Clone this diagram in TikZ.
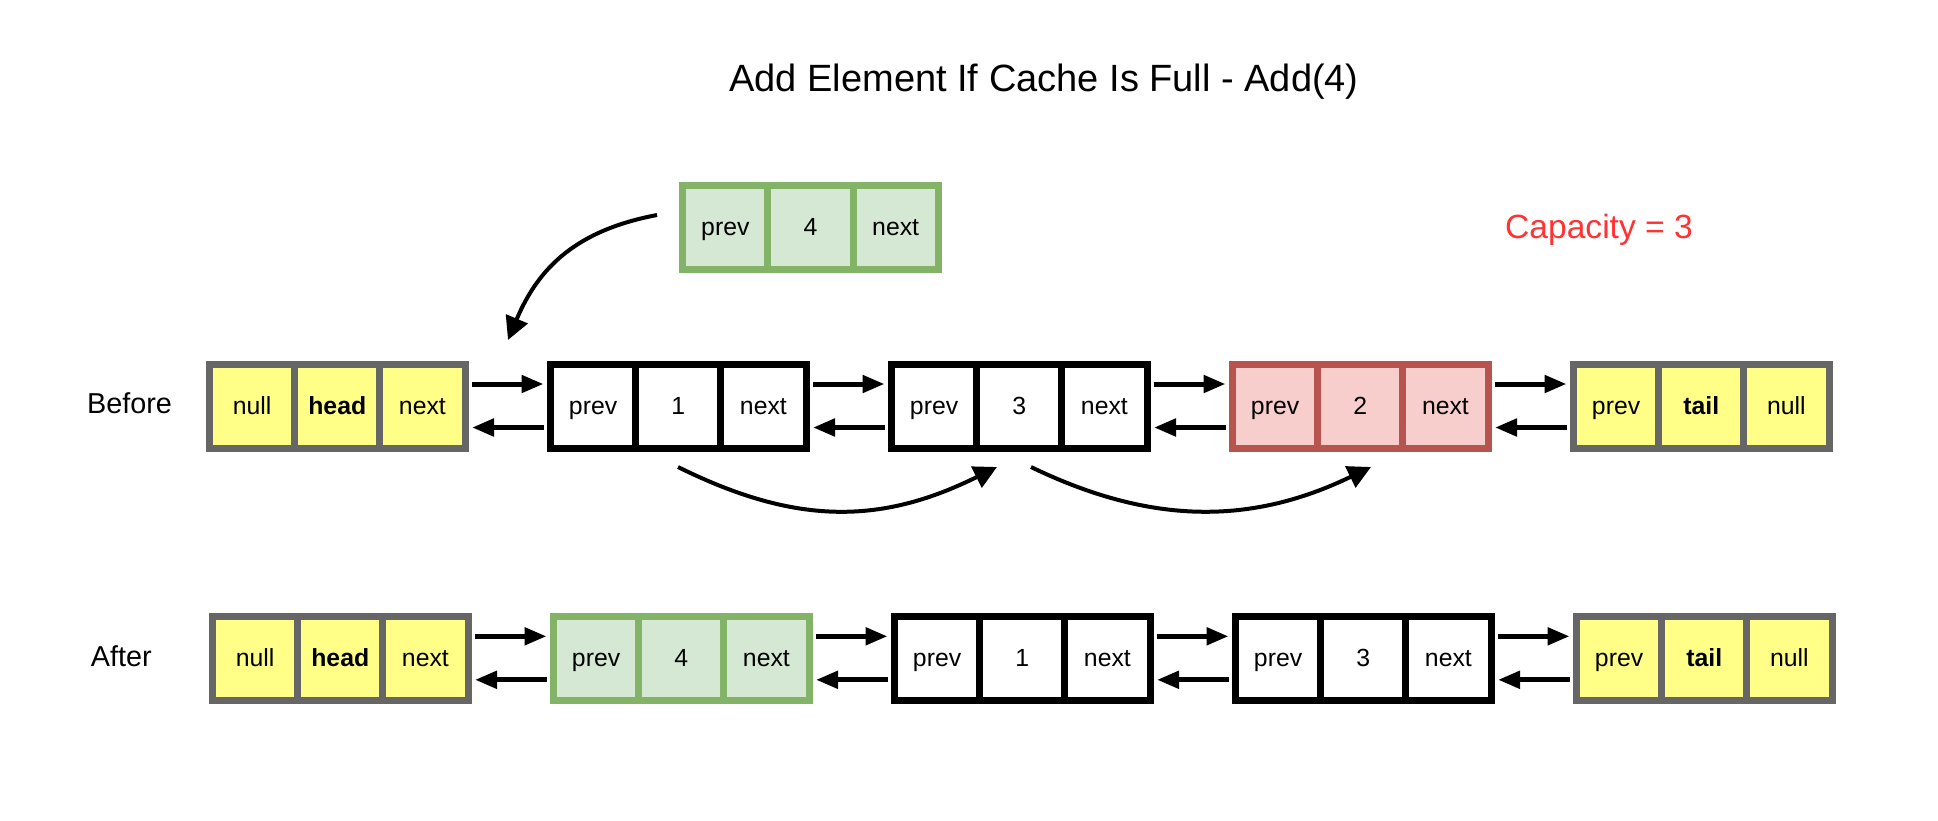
\documentclass[tikz,border=0pt]{standalone}
\usepackage{fontspec}
\setmainfont{Liberation Sans}
\usetikzlibrary{arrows.meta}
\definecolor{ylwfill}{HTML}{FFFF88}
\definecolor{ylwline}{HTML}{666666}
\definecolor{grnfill}{HTML}{D5E8D4}
\definecolor{grnline}{HTML}{82B366}
\definecolor{redfill}{HTML}{F8CECC}
\definecolor{redline}{HTML}{B85450}
\definecolor{capred}{HTML}{FF3333}
\tikzset{
  cellbase/.style={draw, line width=3.5pt, minimum width=42.58pt, minimum height=42pt,
    inner sep=0pt, anchor=center, font=\fontsize{12.4}{14}\selectfont,
    text height=0.9em, text depth=0.134em},
  ylw/.style={cellbase, fill=ylwfill, draw=ylwline},
  grn/.style={cellbase, fill=grnfill, draw=grnline},
  rd/.style={cellbase, fill=redfill, draw=redline},
  blk/.style={cellbase, fill=white, draw=black},
  link/.style={line width=2.5pt, shorten <=1.75pt, shorten >=1.75pt,
    -{Triangle[length=11pt,width=8.5pt]}},
  bendarrow/.style={line width=2pt, -{Triangle[length=11.5pt,width=11.5pt]}},
  lbl/.style={anchor=base, font=\fontsize{14.4}{17}\selectfont},
}
\newcommand\llnode[7]{%
  \node[#2] (#1a) at (#3-85.17,#4) {#5};
  \node[#2] (#1c) at (#3+85.17,#4) {#7};
  \node[#2] (#1b) at (#3,#4) {#6};
}
\begin{document}
\begin{tikzpicture}[x=0.5pt,y=-0.5pt]
\useasboundingbox (0,0) rectangle (1938,820);

\node[anchor=base, font=\fontsize{19}{22}\selectfont] (title) at (1044,91.5) {Add Element If Cache Is Full - Add(4)};
\node[anchor=base, font=\fontsize{16.8}{20}\selectfont, text=capred] (cap) at (1599,238.3) {Capacity = 3};
\node[lbl] (before) at (129.5,413.3) {Before};
\node[lbl] (after) at (121.2,666.7) {After};

% new element
\llnode{n}{grn}{810.5}{227.5}{prev}{4}{next}

% before row
\llnode{b0}{ylw}{337.25}{406.5}{null}{\textbf{head}}{next}
\llnode{b1}{blk}{678.25}{406.5}{prev}{1}{next}
\llnode{b2}{blk}{1019.25}{406.5}{prev}{3}{next}
\llnode{b3}{rd}{1360.25}{406.5}{prev}{2}{next}
\llnode{b4}{ylw}{1701.25}{406.5}{prev}{\textbf{tail}}{null}

% after row
\llnode{a0}{ylw}{340.25}{658.8}{null}{\textbf{head}}{next}
\llnode{a1}{grn}{681.25}{658.8}{prev}{4}{next}
\llnode{a2}{blk}{1022.25}{658.8}{prev}{1}{next}
\llnode{a3}{blk}{1363.25}{658.8}{prev}{3}{next}
\llnode{a4}{ylw}{1704.25}{658.8}{prev}{\textbf{tail}}{null}

% links
\foreach \r in {b,a}{
  \foreach \i/\j in {0/1,1/2,2/3,3/4}{
    \draw[link] ([yshift=11.25pt]\r\i c.east) -- ([yshift=11.25pt]\r\j a.west);
    \draw[link] ([yshift=-10.5pt]\r\j a.west) -- ([yshift=-10.5pt]\r\i c.east);
  }
}

% curved arrows
\coordinate (c1s) at (657,215);
\coordinate (c1e) at (508,340);
\draw[bendarrow] (c1s) .. controls (578,230) and (539,266) .. (c1e);
\coordinate (c2s) at (678,467);
\coordinate (c2e) at (997,467);
\draw[bendarrow] (c2s) .. controls (795,525) and (880,525) .. (c2e);
\coordinate (c3s) at (1031,467);
\coordinate (c3e) at (1371,467);
\draw[bendarrow] (c3s) .. controls (1151,525) and (1251,525) .. (c3e);
\end{tikzpicture}
\end{document}
